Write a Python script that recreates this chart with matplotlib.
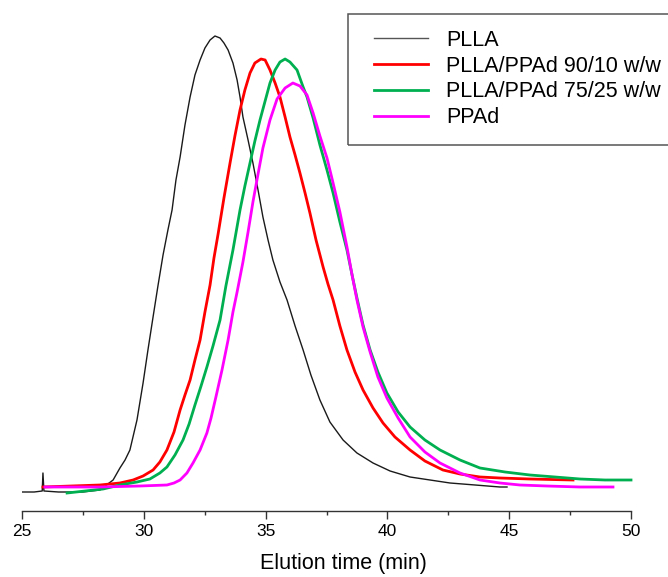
import matplotlib
matplotlib.use("Agg")
import matplotlib.pyplot as plt
from matplotlib.ticker import MultipleLocator
from matplotlib.patches import Rectangle

plt.rcParams['font.family'] = ['Liberation Sans', 'DejaVu Sans']

# elution time (min) and detector response (arb. units)
plla_t = [24.92, 25.50, 25.83, 25.86, 25.90, 26.5, 27.5, 28.20, 28.74, 29.02, 29.23,
          29.43, 29.72, 29.97, 30.17, 30.38, 30.58, 30.79, 30.99, 31.16, 31.32,
          31.49, 31.69, 31.90, 32.10, 32.31, 32.51, 32.72, 32.92, 33.13, 33.29,
          33.46, 33.66, 33.83, 33.95, 34.07, 34.28, 34.48, 34.69, 34.89, 35.10,
          35.30, 35.59, 35.88, 36.21, 36.54, 36.86, 37.23, 37.64, 38.18, 38.75,
          39.41, 40.11, 40.93, 41.75, 42.57, 43.60, 44.62, 44.91]
plla_i = [19, 19, 20, 38, 20, 19, 19, 21, 31, 43, 51,
          61, 91, 128, 161, 194, 225, 256, 281, 301, 331,
          354, 386, 414, 436, 451, 463, 471, 475, 473, 468,
          461, 448, 431, 414, 394, 371, 348, 321, 294, 271,
          251, 229, 211, 185, 161, 136, 111, 89, 71, 58,
          48, 40, 34, 31, 28, 26, 24, 24]

blend90_t = [25.86, 28.20, 29.02, 29.56, 29.97, 30.38, 30.66, 30.95, 31.24, 31.49,
             31.69, 31.90, 32.10, 32.31, 32.51, 32.72, 32.88, 33.05, 33.29, 33.54,
             33.74, 33.95, 34.15, 34.36, 34.56, 34.81, 34.98, 35.18, 35.39, 35.59,
             35.80, 36.00, 36.21, 36.41, 36.62, 36.82, 37.07, 37.36, 37.56, 37.77,
             38.05, 38.34, 38.67, 39.00, 39.41, 39.82, 40.31, 40.93, 41.54, 42.28,
             42.98, 43.80, 44.62, 45.85, 47.62]
blend90_i = [24, 26, 28, 31, 35, 41, 49, 61, 79, 101,
             116, 131, 151, 171, 199, 226, 253, 277, 313, 348,
             375, 401, 421, 438, 448, 452, 451, 441, 428, 414,
             394, 374, 356, 338, 318, 298, 271, 244, 227, 211,
             185, 161, 139, 121, 103, 88, 74, 61, 50, 41,
             37, 34, 33, 32, 31]

blend75_t = [26.85, 27.59, 28.33, 29.02, 29.72, 30.25, 30.66, 30.95, 31.28, 31.61,
             31.86, 32.10, 32.35, 32.59, 32.84, 33.13, 33.37, 33.66, 33.95, 34.15,
             34.36, 34.56, 34.77, 34.98, 35.18, 35.39, 35.59, 35.80, 36.00, 36.29,
             36.54, 36.70, 36.95, 37.23, 37.52, 37.77, 38.05, 38.34, 38.55, 38.75,
             39.00, 39.29, 39.61, 39.98, 40.44, 40.93, 41.54, 42.16, 42.98, 43.80,
             44.83, 45.85, 46.88, 47.91, 48.93, 50.00]
blend75_i = [18, 20, 22, 26, 29, 32, 38, 44, 56, 71,
             87, 106, 125, 144, 165, 191, 225, 261, 301, 325,
             348, 370, 391, 410, 428, 441, 449, 452, 449, 441,
             424, 414, 393, 366, 341, 318, 289, 261, 236, 213,
             186, 161, 139, 118, 99, 84, 71, 61, 51, 43,
             39, 36, 34, 32, 31, 31]

ppad_t = [25.94, 28.20, 29.84, 30.95, 31.24, 31.49, 31.77, 32.02, 32.31, 32.59,
          32.76, 32.96, 33.21, 33.46, 33.66, 33.83, 34.07, 34.28, 34.48, 34.69,
          34.89, 35.18, 35.47, 35.80, 36.12, 36.41, 36.70, 36.95, 37.23, 37.52,
          37.77, 38.05, 38.34, 38.55, 38.75, 39.00, 39.29, 39.61, 39.98, 40.44,
          40.93, 41.54, 42.16, 42.98, 43.80, 44.62, 45.44, 46.55, 47.91, 49.26]
ppad_i = [24, 24, 25, 26, 28, 31, 38, 48, 61, 78,
          93, 114, 141, 171, 199, 219, 249, 279, 309, 337,
          363, 391, 412, 423, 428, 425, 416, 398, 375, 353,
          328, 299, 264, 236, 211, 184, 159, 134, 113, 93,
          74, 59, 48, 38, 31, 28, 26, 25, 24, 24]

labels = ['PLLA', 'PLLA/PPAd 90/10 w/w', 'PLLA/PPAd 75/25 w/w', 'PPAd']

fig = plt.figure(figsize=(6.68, 5.77), dpi=100)
ax = fig.add_axes([22 / 668, 66 / 577, 609 / 668, 506 / 577])

ax.plot(plla_t, plla_i, color='#1a1a1a', lw=1.0, label=labels[0])
ax.plot(blend90_t, blend90_i, color='#ff0000', lw=2.0, label=labels[1])
ax.plot(blend75_t, blend75_i, color='#00b050', lw=2.0, label=labels[2], clip_on=False)
ax.plot(ppad_t, ppad_i, color='#ff00ff', lw=2.0, label=labels[3])

ax.set_xlim(25, 50)
ax.set_ylim(0, 506)
for s in ['left', 'right', 'top']:
    ax.spines[s].set_visible(False)
ax.spines['bottom'].set_color('#333333')
ax.spines['bottom'].set_linewidth(1.0)
ax.set_yticks([])

ax.xaxis.set_major_locator(MultipleLocator(5))
ax.xaxis.set_minor_locator(MultipleLocator(2.5))
ax.tick_params(axis='x', which='major', length=6, width=1, color='#333333',
               labelsize=12.5, pad=3)
ax.tick_params(axis='x', which='minor', length=3, width=1, color='#333333')

ax.set_xlabel('Elution time (min)', fontsize=15.5)
ax.xaxis.set_label_coords(0.528, -0.083)

# legend frame runs off the right edge in the original, so draw it by hand
fig.patches.append(Rectangle((348 / 668, 1 - 145 / 577), 400 / 668, 131 / 577,
                             transform=fig.transFigure, fill=False,
                             edgecolor='#555555', lw=1.1))
leg = ax.legend(loc='upper left', bbox_to_anchor=(374 / 668, 1 - 30 / 577),
                bbox_transform=fig.transFigure, fontsize=15.5, frameon=False,
                handlelength=2.5, handletextpad=0.85,
                labelspacing=0.22, borderpad=0, borderaxespad=0)
leg.legend_handles[0].set_color('#555555')

fig.savefig('out.png', dpi=100)
